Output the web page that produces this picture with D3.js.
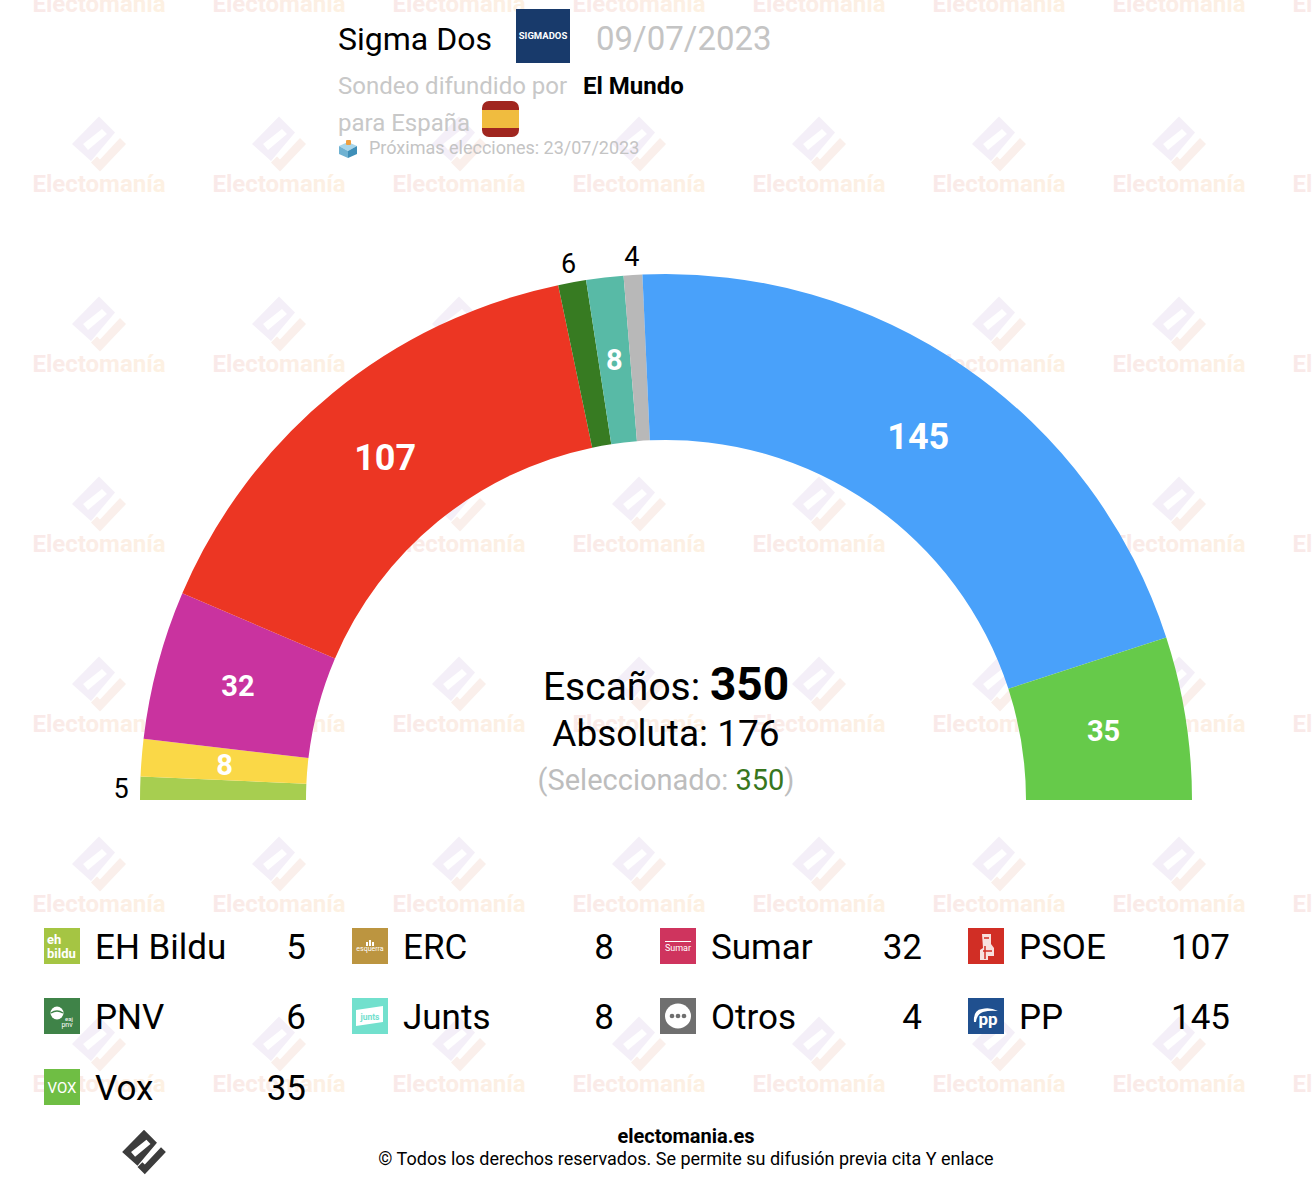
<!DOCTYPE html>
<html lang="es">
<head>
<meta charset="utf-8">
<script src="https://d3js.org/d3.v7.min.js"></script>
<style>
  html, body { margin: 0; padding: 0; background: #fff; }
  text { font-family: Roboto, sans-serif; }
</style>
</head>
<body>
<div id="my_dataviz"></div>

<script>
// arc order, left to right
var parties = ["EH Bildu", "ERC", "Sumar", "PSOE", "PNV", "Junts", "Otros", "PP", "Vox"];
var seats = [5, 8, 32, 107, 6, 8, 4, 145, 35];
var arcColors = ["#a7ce50", "#fad847", "#c9339f", "#ec3623", "#377b22", "#58baa6", "#b8b8b8", "#49a1fa", "#66ca4a"];
var iconColors = ["#a5c543", "#bc9540", "#cf345e", "#d12e25", "#3f8348", "#72e0cd", "#6f6f6f", "#20508f", "#6fbe44"];
var outsideLabels = ["EH Bildu", "PNV", "Otros"];

// legend goes column by column, top row first
var legendOrder = [["EH Bildu", "PNV", "Vox"], ["ERC", "Junts"], ["Sumar", "Otros"], ["PSOE", "PP"]];

var width = 1312, height = 1180;
var cx = 666, cy = 800;

var svg = d3.select("#my_dataviz")
  .append("svg")
    .attr("width", width)
    .attr("height", height)
    .style("display", "block");

var defs = svg.append("defs");
var grad = defs.append("linearGradient").attr("id", "wmGrad");
grad.append("stop").attr("offset", "0%").attr("stop-color", "#f9e9e9");
grad.append("stop").attr("offset", "100%").attr("stop-color", "#fdf1e2");

// logo, centred on 0,0 and about 54px wide
var logoBody = "M0,-27.5L16,-11.5L-8,17L-27,0Z M-16,0L-11,6L8,-10L3,-15Z";
var logoHook = "M21,-6L27,0L1,27.5L-8,18.5L-2,12.5L1,15.5Z";

function drawLogo(sel, x, y, k, fill1, fill2) {
  var g = sel.append("g").attr("transform", "translate(" + x + "," + y + ") scale(" + k + ")");
  g.append("path").attr("d", logoBody).attr("fill", fill1).attr("fill-rule", "evenodd");
  g.append("path").attr("d", logoHook).attr("fill", fill2);
}

// watermark tiles
var wm = svg.append("g");
d3.range(0, 8).forEach(function(i) {
  d3.range(0, 7).forEach(function(j) {
    var x = 99 + i * 180, y = 4 + j * 180;
    drawLogo(wm, x, y - 40, 1, "#f4eff8", "#faefeb");
    wm.append("text")
      .attr("x", x).attr("y", y + 8)
      .attr("text-anchor", "middle")
      .attr("font-size", 24).attr("font-weight", 700)
      .attr("fill", "url(#wmGrad)")
      .text("Electomanía");
  });
});

// hemicycle
var pie = d3.pie()
  .sort(null)
  .startAngle(-Math.PI / 2)
  .endAngle(Math.PI / 2)
  .value(function(d) { return d.seats; });

var arc = d3.arc().innerRadius(360).outerRadius(526);
var labelArc = d3.arc().innerRadius(545).outerRadius(545);

var slices = pie(parties.map(function(p, i) {
  return { name: p, seats: seats[i], color: arcColors[i] };
}));

var chart = svg.append("g").attr("transform", "translate(" + cx + "," + cy + ")");

chart.selectAll("path")
  .data(slices)
  .enter()
  .append("path")
    .attr("d", arc)
    .attr("fill", function(d) { return d.data.color; });

chart.selectAll("text")
  .data(slices)
  .enter()
  .append("text")
    .attr("transform", function(d) {
      var out = outsideLabels.indexOf(d.data.name) >= 0;
      return "translate(" + (out ? labelArc : arc).centroid(d) + ")";
    })
    .attr("text-anchor", "middle")
    .attr("dy", "0.36em")
    .attr("font-size", function(d) {
      if (outsideLabels.indexOf(d.data.name) >= 0) return 27;
      return d.data.seats > 100 ? 36 : 29;
    })
    .attr("font-weight", function(d) { return outsideLabels.indexOf(d.data.name) >= 0 ? 400 : 700; })
    .attr("fill", function(d) { return outsideLabels.indexOf(d.data.name) >= 0 ? "#000" : "#fff"; })
    .text(function(d) { return d.data.seats; });

// centre text
var centre = svg.append("g").attr("text-anchor", "middle");
var t1 = centre.append("text").attr("x", 666).attr("y", 700).attr("font-size", 39);
t1.append("tspan").text("Escaños: ");
t1.append("tspan").attr("font-weight", 700).attr("font-size", 46).text("350");
centre.append("text").attr("x", 666).attr("y", 746).attr("font-size", 37).text("Absoluta: 176");
var t3 = centre.append("text").attr("x", 666).attr("y", 790).attr("font-size", 29).attr("fill", "#bdbdbd");
t3.append("tspan").text("(Seleccionado: ");
t3.append("tspan").attr("fill", "#38761d").text("350");
t3.append("tspan").text(")");

// header
var head = svg.append("g");
head.append("text").attr("x", 338).attr("y", 50).attr("font-size", 32).text("Sigma Dos");
head.append("rect").attr("x", 516).attr("y", 9).attr("width", 54).attr("height", 54).attr("fill", "#183a6b");
head.append("text").attr("x", 543).attr("y", 39).attr("text-anchor", "middle")
  .attr("font-size", 9.5).attr("font-weight", 700).attr("fill", "#fff").text("SIGMADOS");
head.append("text").attr("x", 596).attr("y", 50).attr("font-size", 33).attr("fill", "#c4c4c4").text("09/07/2023");
head.append("text").attr("x", 338).attr("y", 94).attr("font-size", 24).attr("fill", "#c8c8c8").text("Sondeo difundido por");
head.append("text").attr("x", 583).attr("y", 94).attr("font-size", 24).attr("font-weight", 700).text("El Mundo");
head.append("text").attr("x", 338).attr("y", 131).attr("font-size", 24).attr("fill", "#c8c8c8").text("para España");

head.append("rect").attr("x", 482).attr("y", 101).attr("width", 37).attr("height", 36).attr("rx", 7).attr("fill", "#a0261f");
head.append("rect").attr("x", 482).attr("y", 110).attr("width", 37).attr("height", 18).attr("fill", "#f0bc3f");

// ballot box icon
head.append("path").attr("d", "M339,146L348,142L357,146L348,151Z").attr("fill", "#a9d6ea");
head.append("path").attr("d", "M339,146L348,151L348,158L339,154Z").attr("fill", "#6fb2d2");
head.append("path").attr("d", "M357,146L348,151L348,158L357,154Z").attr("fill", "#3f8fb8");
head.append("rect").attr("x", 346).attr("y", 140).attr("width", 5).attr("height", 5).attr("rx", 1).attr("fill", "#f0a040");
head.append("text").attr("x", 369).attr("y", 154).attr("font-size", 18).attr("fill", "#c4c4c4").text("Próximas elecciones: 23/07/2023");

// legend
var colX = [44, 352, 660, 968];
var rowY = [928, 998, 1069];

function drawIcon(g, name) {
  function small(txt, x, y, size, weight) {
    g.append("text").attr("x", x).attr("y", y).attr("font-size", size)
      .attr("font-weight", weight || 400).attr("fill", "#fff").attr("text-anchor", "middle").text(txt);
  }
  if (name == "EH Bildu") {
    g.append("text").attr("x", 3).attr("y", 16).attr("font-size", 13).attr("font-weight", 700).attr("fill", "#fff").text("eh");
    g.append("text").attr("x", 3).attr("y", 30).attr("font-size", 13).attr("font-weight", 700).attr("fill", "#fff").text("bildu");
  } else if (name == "ERC") {
    small("esquerra", 18, 23, 7);
    g.append("rect").attr("x", 17).attr("y", 12).attr("width", 2).attr("height", 6).attr("fill", "#fff");
    g.append("rect").attr("x", 14).attr("y", 14).attr("width", 2).attr("height", 4).attr("fill", "#fff");
    g.append("rect").attr("x", 20).attr("y", 14).attr("width", 2).attr("height", 4).attr("fill", "#fff");
  } else if (name == "Sumar") {
    g.append("rect").attr("x", 5).attr("y", 13).attr("width", 26).attr("height", 1).attr("fill", "#fff");
    small("Sumar", 18, 23, 9);
  } else if (name == "PSOE") {
    g.append("path").attr("d", "M14,6L23,6L23,16L26,20L26,28L20,28L20,32L12,32L12,22L15,20Z").attr("fill", "#fff").attr("opacity", 0.85);
    g.append("path").attr("d", "M16,10L21,10M15,23L24,23M17,18L17,31").attr("stroke", "#d12e25").attr("stroke-width", 1.5);
  } else if (name == "PNV") {
    g.append("circle").attr("cx", 13).attr("cy", 15).attr("r", 6.5).attr("fill", "#fff");
    g.append("path").attr("d", "M7,15Q13,11 19,15").attr("stroke", "#3f8348").attr("stroke-width", 1.5).attr("fill", "none");
    small("eaj", 25, 23, 6);
    small("pnv", 23, 29, 7);
  } else if (name == "Junts") {
    g.append("path").attr("d", "M4,12L31,8L31,24L4,28Z").attr("fill", "#fff");
    g.append("text").attr("x", 18).attr("y", 22).attr("font-size", 8.5).attr("font-weight", 700)
      .attr("fill", "#72e0cd").attr("text-anchor", "middle").text("junts");
  } else if (name == "Otros") {
    g.append("ellipse").attr("cx", 18).attr("cy", 18).attr("rx", 13).attr("ry", 12.5).attr("fill", "#fff");
    [12, 18, 24].forEach(function(x) {
      g.append("circle").attr("cx", x).attr("cy", 18).attr("r", 2.3).attr("fill", "#6f6f6f");
    });
  } else if (name == "PP") {
    g.append("path").attr("d", "M6,24Q5,12 14,11Q22,9 30,13Q22,12 15,14Q9,16 8,24Z").attr("fill", "#fff");
    small("pp", 20, 27, 17, 700);
  } else if (name == "Vox") {
    small("VOX", 18, 24, 15, 400);
  }
}

var legend = svg.append("g");
legendOrder.forEach(function(col, c) {
  col.forEach(function(name, r) {
    var i = parties.indexOf(name);
    var g = legend.append("g").attr("transform", "translate(" + colX[c] + "," + rowY[r] + ")");
    g.append("rect").attr("width", 36).attr("height", 36).attr("fill", iconColors[i]);
    drawIcon(g, name);
    g.append("text").attr("x", 51).attr("y", 31).attr("font-size", 35).text(name);
    g.append("text").attr("x", 262).attr("y", 31).attr("font-size", 35).attr("text-anchor", "end").text(seats[i]);
  });
});

// footer
drawLogo(svg, 144, 1152, 0.81, "#3c3c3c", "#3c3c3c");
svg.append("text").attr("x", 686).attr("y", 1143).attr("font-size", 20).attr("font-weight", 700)
  .attr("text-anchor", "middle").text("electomania.es");
svg.append("text").attr("x", 686).attr("y", 1165).attr("font-size", 18)
  .attr("text-anchor", "middle").text("© Todos los derechos reservados. Se permite su difusión previa cita Y enlace");
</script>
</body>
</html>
